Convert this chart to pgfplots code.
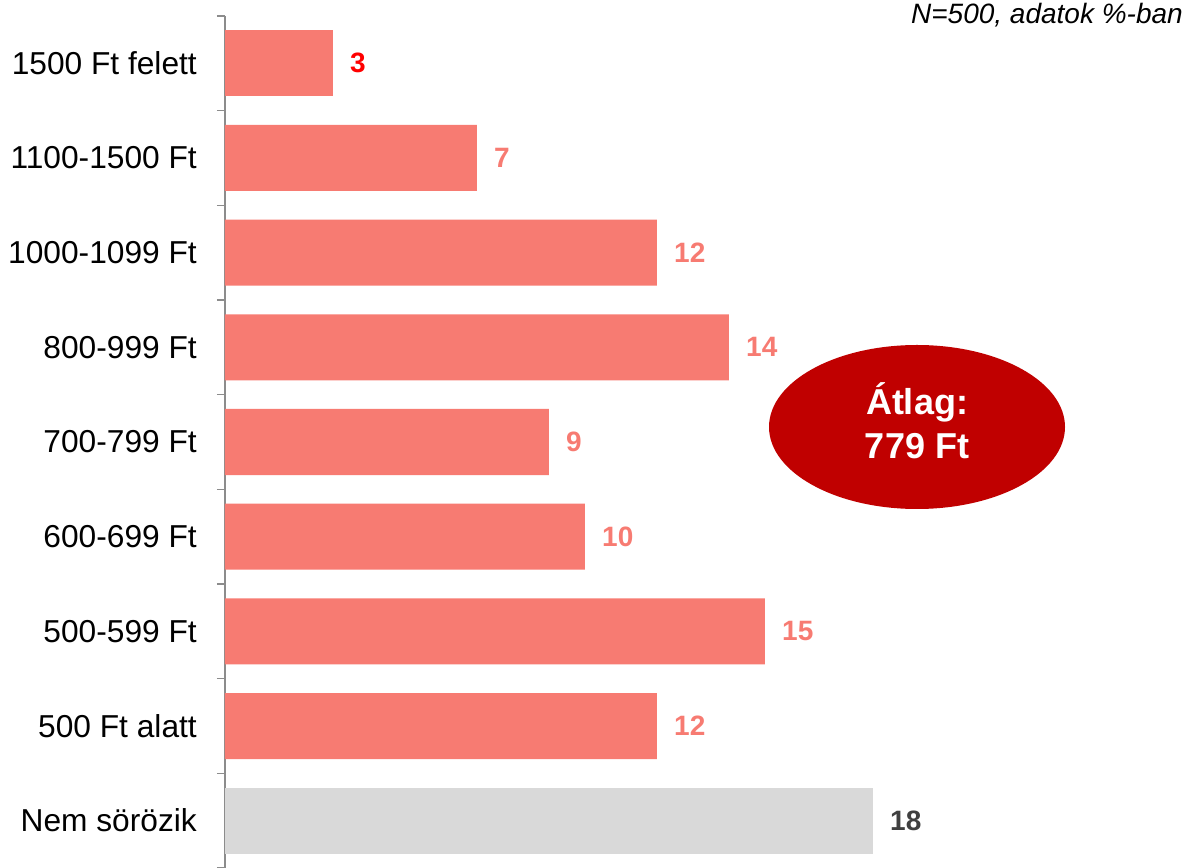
\documentclass[border=0pt]{standalone}
\usepackage{pgfplots}
\pgfplotsset{compat=1.18}
\usepackage{fontspec}
\setmainfont{Liberation Sans}
\definecolor{barsal}{HTML}{F77B72}
\definecolor{bargray}{HTML}{D9D9D9}
\definecolor{axgray}{HTML}{8C8C8C}
\definecolor{darkred}{HTML}{C00000}
\definecolor{lblgray}{HTML}{404040}
\begin{document}
\begin{tikzpicture}
\useasboundingbox (-225pt,0pt) rectangle (965pt,867pt);
\begin{axis}[
  at={(0pt,-1pt)}, anchor=south west,
  scale only axis, width=965pt, height=852pt,
  xmin=0, xmax=26.806, ymin=-0.5, ymax=8.5,
  axis x line=none, axis y line*=left,
  axis line style={axgray, line width=1.5pt},
  xbar, bar width=66pt, bar shift=0pt,
  ytick={0,...,8},
  yticklabels={Nem sörözik,500 Ft alatt,500-599 Ft,600-699 Ft,700-799 Ft,800-999 Ft,1000-1099 Ft,1100-1500 Ft,1500 Ft felett},
  major tick length=0pt,
  yticklabel style={anchor=east, inner sep=0pt, xshift=-28pt, font=\fontsize{31.7}{36}\selectfont, text=black},
  extra y ticks={-0.5,0.5,...,8.5},
  extra y tick labels={},
  extra y tick style={major tick length=8pt, tick align=outside, tick style={axgray, line width=1.5pt}},
  /pgf/number format/assume math mode=true,
  nodes near coords,
  nodes near coords style={anchor=west, inner sep=0pt, xshift=17pt, font=\fontsize{28}{32}\selectfont\bfseries},
  clip=false,
]
\addplot[fill=bargray, draw=none, nodes near coords style={text=lblgray}] coordinates {(18,0)};
\addplot[fill=barsal, draw=none, nodes near coords style={text=barsal}] coordinates {(12,1) (15,2) (10,3) (9,4) (14,5) (12,6) (7,7)};
\addplot[fill=barsal, draw=none, nodes near coords style={text=red}] coordinates {(3,8)};
\end{axis}
\node[anchor=base east, inner sep=0pt, font=\fontsize{28}{32}\selectfont\itshape] at (958pt,843pt) {N=500, adatok \%-ban};
\fill[darkred] (692pt,440pt) ellipse [x radius=148pt, y radius=82pt];
\node[align=center, text=white, inner sep=0pt, font=\fontsize{36}{44}\selectfont\bfseries] at (692pt,446pt) {Átlag:\\779 Ft};
\end{tikzpicture}
\end{document}
